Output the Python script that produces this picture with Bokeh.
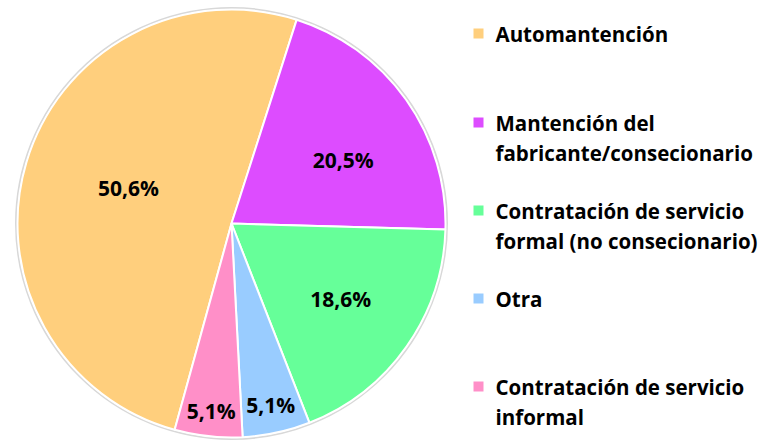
import math
from bokeh.plotting import figure
from bokeh.models import Range1d, ColumnDataSource
from bokeh.core.properties import value
from bokeh.embed import file_html
from bokeh.resources import INLINE

# ---- data ----
categories = ["Automantención", "Mantención del\nfabricante/consecionario",
              "Contratación de servicio\nformal (no consecionario)", "Otra",
              "Contratación de servicio\ninformal"]
shares = [50.6, 20.5, 18.6, 5.1, 5.1]
share_labels = ["50,6%", "20,5%", "18,6%", "5,1%", "5,1%"]
colors = ["#FFCF7D", "#DD4CFF", "#66FF99", "#99CCFF", "#FF8FC8"]

# ---- layout constants ----
W, H = 766, 443
def X(sx): return sx
def Y(sy): return H - sy

cx, cy, R = X(231), Y(223), 214
first_angle = 195.4          # clockwise from top, where the first slice starts
label_r = [0.51, 0.60, 0.62, 0.87, 0.88]
label_da = [2.5, 5.7, -0.5, 0.0, 0.0]   # small angular nudges (deg, clockwise)
FONT = "Open Sans"

p = figure(width=W, height=H, output_backend="svg", toolbar_location=None,
           x_range=Range1d(0, W), y_range=Range1d(0, H), min_border=0,
           outline_line_color=None)
p.axis.visible = False
p.grid.visible = False
p.background_fill_color = "white"
p.border_fill_color = "white"

total = sum(shares)
starts, ends, lx, ly = [], [], [], []
th = first_angle
for i, s in enumerate(shares):
    span = s / total * 360
    ts, te = th, th + span
    starts.append(math.radians(90 - te))
    ends.append(math.radians(90 - ts))
    mid = math.radians(90 - ((ts + te) / 2 + label_da[i]))
    lx.append(cx + label_r[i] * R * math.cos(mid))
    ly.append(cy + label_r[i] * R * math.sin(mid))
    th = te

# soft shadow rim
p.circle(x=[cx], y=[cy], radius=R + 1.5, fill_color=None, line_color="#d8d8d8", line_width=2)

src = ColumnDataSource(dict(start=starts, end=ends, color=colors, lx=lx, ly=ly, lab=share_labels))
p.wedge(x=cx, y=cy, radius=R, start_angle="start", end_angle="end",
        fill_color="color", line_color="white", line_width=2, source=src)
p.text(x="lx", y="ly", text="lab", source=src, text_align="center", text_baseline="middle",
       text_font=value(FONT), text_font_style="bold", text_font_size="21px", text_color="black")

# legend
leg_y = [33, 122, 210, 298, 386]
sq_x, txt_x, line_h = 478, 495, 30
p.rect(x=[X(sq_x)] * len(categories), y=[Y(v) for v in leg_y], width=10, height=10,
       fill_color=colors, line_color=None)
tx, ty, tt = [], [], []
for c, yy in zip(categories, leg_y):
    for k, line in enumerate(c.split("\n")):
        tx.append(X(txt_x)); ty.append(Y(yy + k * line_h)); tt.append(line)
p.text(x=tx, y=ty, text=tt, text_align="left", text_baseline="middle",
       text_font=value(FONT), text_font_style="bold", text_font_size="20.5px", text_color="black")

open("out.html", "w").write(file_html(p, INLINE))
